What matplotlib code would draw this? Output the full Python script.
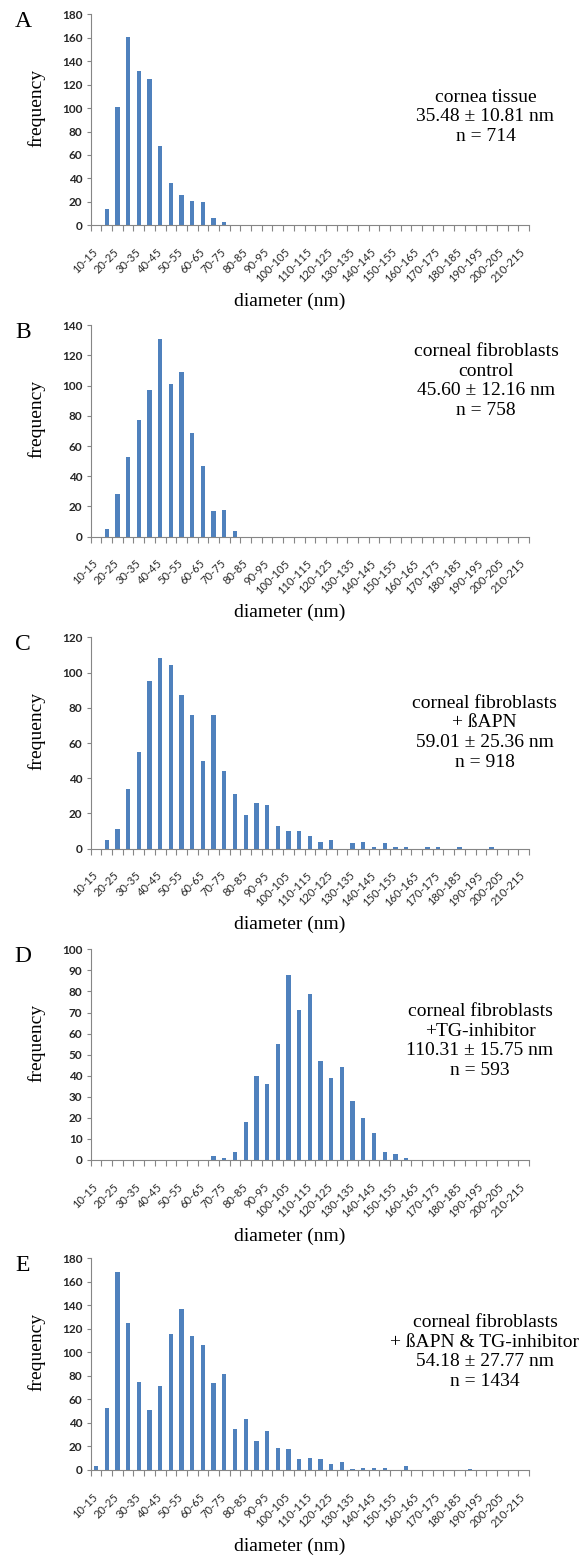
import matplotlib.pyplot as plt
import numpy as np

# 5 nm diameter bins, 10-15 ... 210-215
BIN_LABELS = [f"{lo}-{lo + 5}" for lo in range(10, 215, 5)]

CORNEA_TISSUE = [
    0, 14, 101, 161, 132, 125, 68, 36, 26, 21,
    20, 6, 3, 0, 0, 0, 0, 0, 0, 0,
    0, 0, 0, 0, 0, 0, 0, 0, 0, 0,
    0, 0, 0, 0, 0, 0, 0, 0, 0, 0,
    0,
]
FIBRO_CONTROL = [
    0, 5, 28, 53, 77, 97, 131, 101, 109, 69,
    47, 17, 18, 4, 0, 0, 0, 0, 0, 0,
    0, 0, 0, 0, 0, 0, 0, 0, 0, 0,
    0, 0, 0, 0, 0, 0, 0, 0, 0, 0,
    0,
]
FIBRO_BAPN = [
    0, 5, 11, 34, 55, 95, 108, 104, 87, 76,
    50, 76, 44, 31, 19, 26, 25, 13, 10, 10,
    7, 4, 5, 0, 3, 4, 1, 3, 1, 1,
    0, 1, 1, 0, 1, 0, 0, 1, 0, 0,
    0,
]
FIBRO_TG = [
    0, 0, 0, 0, 0, 0, 0, 0, 0, 0,
    0, 2, 1, 4, 18, 40, 36, 55, 88, 71,
    79, 47, 39, 44, 28, 20, 13, 4, 3, 1,
    0, 0, 0, 0, 0, 0, 0, 0, 0, 0,
    0,
]
FIBRO_BAPN_TG = [
    3, 53, 168, 125, 75, 51, 71, 116, 137, 114,
    106, 74, 82, 35, 43, 25, 33, 19, 18, 9,
    10, 9, 5, 7, 1, 2, 2, 2, 0, 3,
    0, 0, 0, 0, 0, 1, 0, 0, 0, 0,
    0,
]

LETTERS = ["A", "B", "C", "D", "E"]
SERIES = [CORNEA_TISSUE, FIBRO_CONTROL, FIBRO_BAPN, FIBRO_TG, FIBRO_BAPN_TG]
Y_MAX = [180, 140, 120, 100, 180]
Y_STEP = [20, 20, 20, 10, 20]
NOTES = [
    "cornea tissue\n35.48 \u00b1 10.81 nm\nn = 714",
    "corneal fibroblasts\ncontrol\n45.60 \u00b1 12.16 nm\nn = 758",
    "corneal fibroblasts\n+ \u00dfAPN\n59.01 \u00b1 25.36 nm\nn = 918",
    "corneal fibroblasts\n+TG-inhibitor\n110.31 \u00b1 15.75 nm\nn = 593",
    "corneal fibroblasts\n+ \u00dfAPN & TG-inhibitor\n54.18 \u00b1 27.77 nm\nn = 1434",
]

W, H = 582, 1558
AX_LEFT, AX_RIGHT = 90.7, 529
# (top, baseline) of each plot area in pixels
PANEL_Y = [(14.3, 225.3), (325.3, 536.7), (637.3, 848.7), (949.3, 1160), (1258.3, 1470)]
NOTE_Y = [116.7, 381, 732.7, 1041, 1352]
NOTE_X = [485.5, 486, 484.7, 480, 485]

BAR_COLOR = "#4F81BD"
AXIS_GREY = "#868686"
SERIF = "Liberation Serif"

fig = plt.figure(figsize=(W / 100, H / 100), dpi=100)


def fx(px):
    return px / W


def fy(py):
    return 1 - py / H


x = np.arange(len(BIN_LABELS))

for i in range(5):
    top, base = PANEL_Y[i]
    ax = fig.add_axes([fx(AX_LEFT), fy(base), (AX_RIGHT - AX_LEFT) / W, (base - top) / H])
    ax.bar(x, SERIES[i], width=0.4, color=BAR_COLOR, edgecolor="none")
    ax.set_xlim(-0.5, len(BIN_LABELS) - 0.5)
    ax.set_ylim(0, Y_MAX[i])

    for side in ["top", "right"]:
        ax.spines[side].set_visible(False)
    for side in ["left", "bottom"]:
        ax.spines[side].set_color(AXIS_GREY)
        ax.spines[side].set_linewidth(0.8)

    ax.set_yticks(np.arange(0, Y_MAX[i] + 1, Y_STEP[i]))
    ax.tick_params(axis="y", length=3, width=0.8, color=AXIS_GREY, pad=3,
                   labelsize=8.5, labelcolor="#262626")
    for lab in ax.get_yticklabels():
        lab.set_family("Lato")
        lab.set_weight("bold")

    # labels on every other category, tick marks on category boundaries
    ax.set_xticks(x[::2])
    ax.set_xticklabels(BIN_LABELS[::2], family="Lato", fontsize=8, color="#2a2a2a")
    ax.set_xticks(np.arange(-0.5, len(BIN_LABELS)), minor=True)
    ax.tick_params(axis="x", which="major", length=0, pad=18)
    ax.tick_params(axis="x", which="minor", length=4, width=0.8, color=AXIS_GREY)
    for lab in ax.get_xticklabels():
        lab.set_rotation(45)
        lab.set_ha("right")
        lab.set_va("center")
        lab.set_rotation_mode("anchor")

    fig.text(fx(23), fy(top + 7), LETTERS[i], family=SERIF, fontsize=17,
             ha="center", va="center")
    fig.text(fx(36), fy(top + 94), "frequency", family=SERIF, fontsize=14,
             rotation=90, ha="center", va="center")
    fig.text(fx(290), fy(base + 76), "diameter (nm)", family=SERIF, fontsize=14,
             ha="center", va="center")
    fig.text(fx(NOTE_X[i]), fy(NOTE_Y[i]), NOTES[i], family=SERIF, fontsize=14,
             ha="center", va="center", linespacing=1.2)

fig.savefig("out.png", dpi=100, facecolor="white")
